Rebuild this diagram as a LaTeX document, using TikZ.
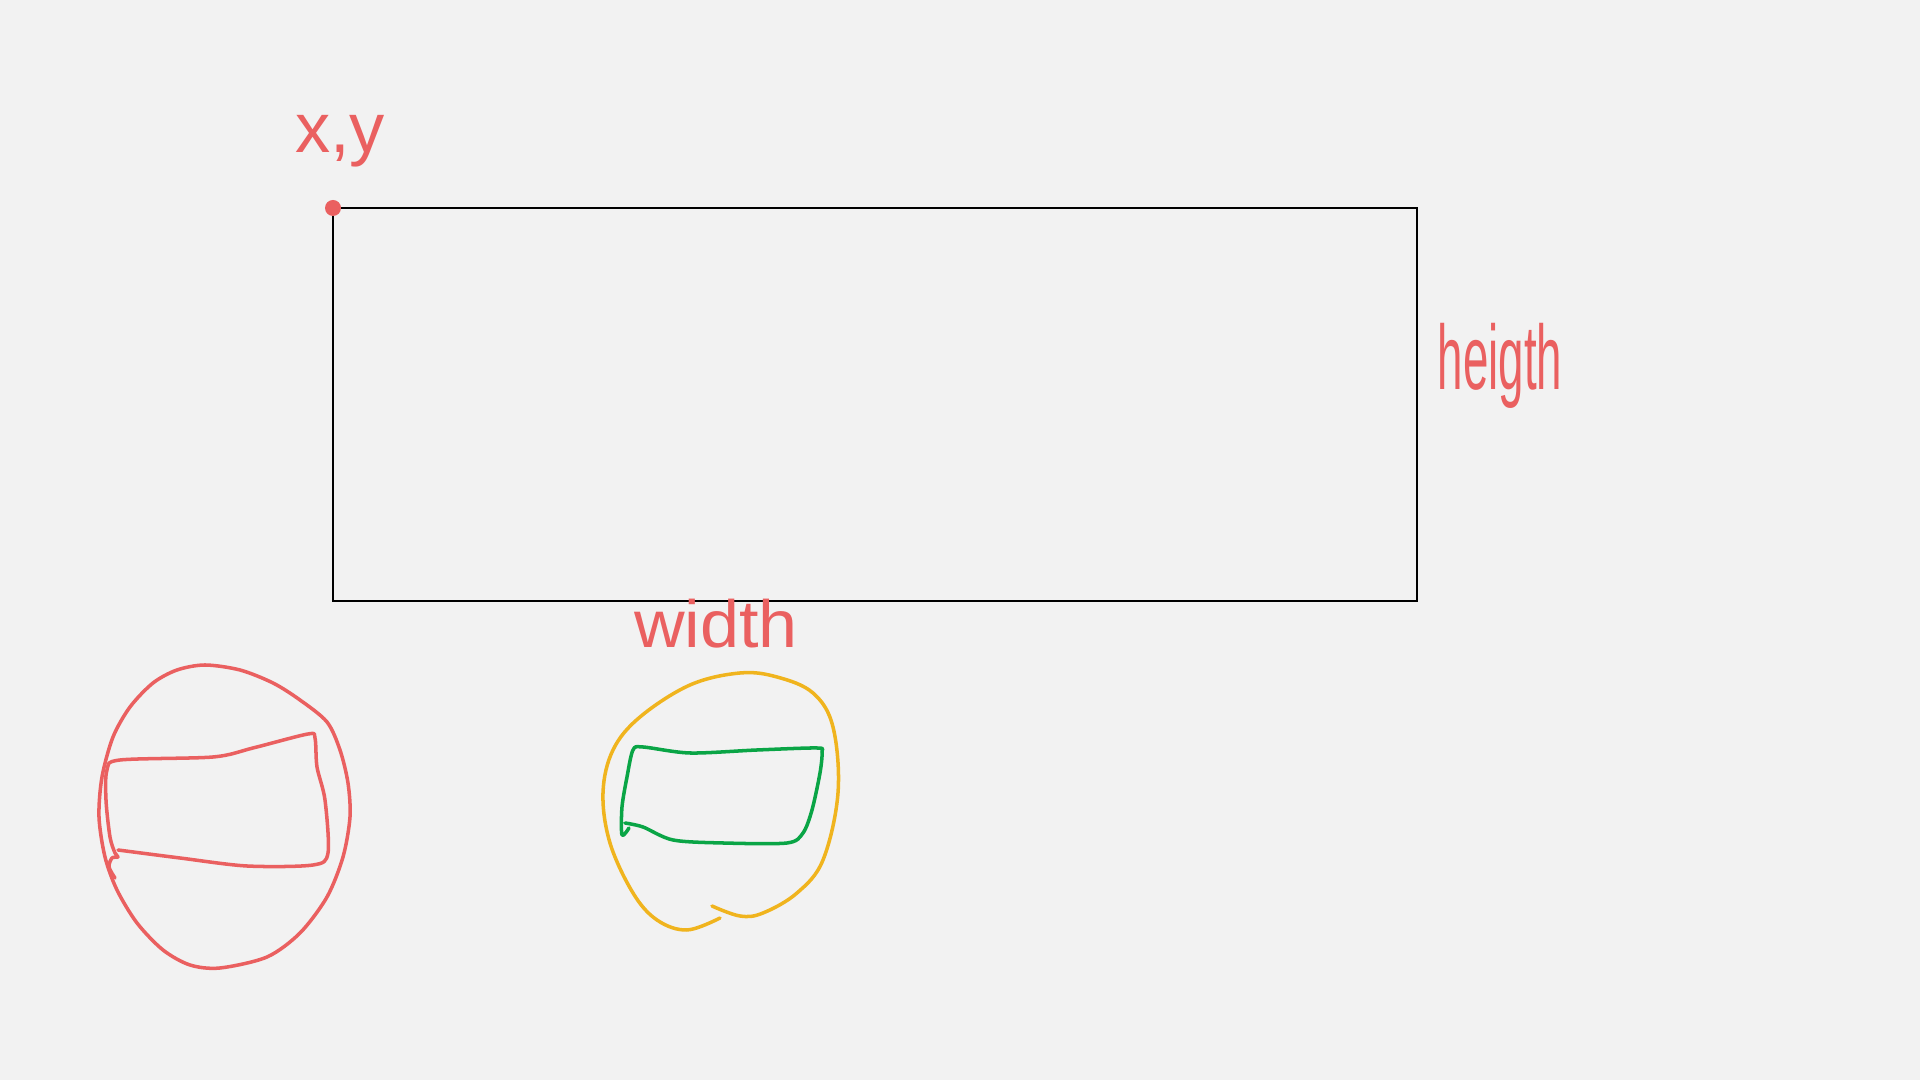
\documentclass[tikz,border=0pt]{standalone}
\usepackage{fontspec}
\setsansfont{Liberation Sans}
\usetikzlibrary{positioning}
\definecolor{pen}{RGB}{234,96,96}
\definecolor{marker}{RGB}{240,180,30}
\definecolor{felt}{RGB}{10,165,70}
\definecolor{paper}{RGB}{242,242,242}
\tikzset{ink/.style={line width=1pt, line cap=round, line join=round},
  scribble/.style={text=pen, font=\sffamily, inner sep=0pt, anchor=base}}

\begin{document}
\begin{tikzpicture}[x=0.01cm, y=-0.01cm]
  % canvas
  \fill[paper] (0,0) rectangle (1920,1080);
  % the box
  \coordinate (tl) at (333,208);
  \coordinate (br) at (1417,601);
  \draw[line width=0.8pt] (tl) rectangle (br);
  \fill[pen] (tl) circle (8);
  % labels
  \node[scribble, font=\sffamily\fontsize{20}{22}\selectfont] (xy) at (340,153) {x,y};
  \node[scribble, font=\sffamily\fontsize{26}{28}\selectfont, xscale=0.5] (hgt) at (1500,390) {heigth};
  \node[scribble, font=\sffamily\fontsize{19}{21}\selectfont, xscale=1.05] (wid) at (716,648) {width};
  % red sketch
  \draw[ink, pen] plot[smooth cycle, tension=0.5] coordinates {(205,665) (240,670) (273,683) (300,700) (327,722) (340,750) (348,783) (350,817) (343,857) (327,897) (300,933) (267,957) (220,968) (190,965) (163,950) (137,923) (117,890) (105,857) (99,817) (102,777) (113,737) (130,707) (153,683) (177,670)};
  \draw[ink, pen] plot[smooth, tension=0.5] coordinates {(118,850) (180,858) (247,866) (313,865) (328,853) (325,800) (317,767) (315,738) (308,734) (253,748) (213,757) (120,760) (107,770) (106,800) (110,837) (115,853) (118,857) (112,858) (109,867) (115,878)};
  % yellow and green sketch
  \draw[ink, marker] plot[smooth, tension=0.6] coordinates {(712,906) (740,916) (763,913) (797,893) (823,860) (838,793) (833,727) (813,693) (777,677) (740,673) (690,685) (640,717) (613,750) (603,793) (610,843) (633,893) (657,920) (687,930) (720,918)};
  \draw[ink, felt] plot[smooth, tension=0.5] coordinates {(625,823) (643,827) (673,840) (723,843) (787,843) (803,833) (812,810) (820,773) (822,752) (817,748) (757,750) (690,753) (643,747) (633,750) (627,777) (622,807) (622,835) (629,828)};
\end{tikzpicture}
\end{document}
